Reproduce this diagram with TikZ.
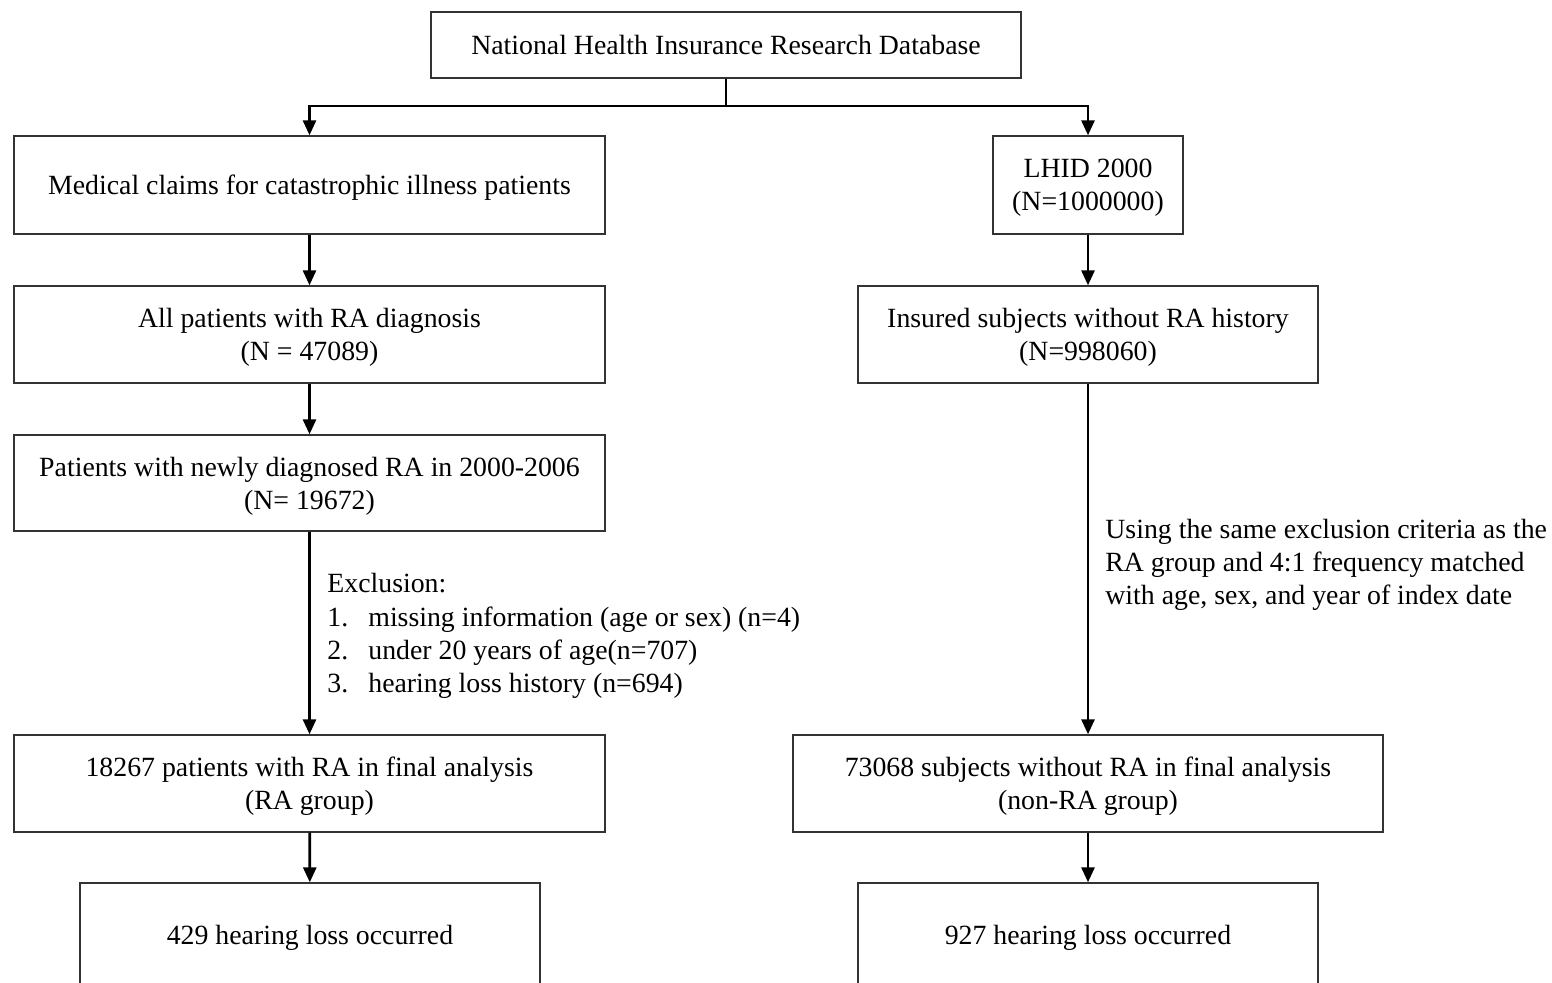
\documentclass[tikz,border=0pt]{standalone}
\usepackage{fontspec}
\setmainfont{Liberation Serif}
\usepackage{tikz}
\usetikzlibrary{arrows.meta}

\tikzset{
  box/.style={draw=black!80, line width=0.7pt, align=center, inner sep=0pt, text depth=0pt},
  arr/.style={line width=1.4pt, -{Triangle[length=7.5pt,width=6.5pt]}},
}

\begin{document}
\begin{tikzpicture}[x=0.5pt, y=-0.5pt, font=\fontsize{13.9}{16.6}\selectfont]

\clip (0,0) rectangle (1552,982);

% source
\node[box, minimum width=295pt, minimum height=33pt] (db) at (726,45) {National Health Insurance Research Database};

% left branch
\node[box, minimum width=295.5pt, minimum height=49pt] (claims) at (309.5,185) {Medical claims for catastrophic illness patients};
\node[box, minimum width=295.5pt, minimum height=48.5pt] (ra) at (309.5,334.5) {All patients with RA diagnosis\\(N = 47089)};
\node[box, minimum width=295.5pt, minimum height=48pt] (newra) at (309.5,483) {Patients with newly diagnosed RA in 2000-2006\\(N= 19672)};
\node[box, minimum width=295.5pt, minimum height=48.5pt] (rafinal) at (309.5,783.5) {18267 patients with RA in final analysis\\(RA group)};
\node[box, minimum width=230pt, minimum height=52pt] (rahl) at (310,935) {429 hearing loss occurred};

% right branch
\node[box, minimum width=95pt, minimum height=49pt] (lhid) at (1088,185) {LHID 2000\\(N=1000000)};
\node[box, minimum width=230pt, minimum height=48.5pt] (insured) at (1088,334.5) {Insured subjects without RA history\\(N=998060)};
\node[box, minimum width=295pt, minimum height=48.5pt] (nonrafinal) at (1088,783.5) {73068 subjects without RA in final analysis\\(non-RA group)};
\node[box, minimum width=230pt, minimum height=52pt] (nonrahl) at (1088,935) {927 hearing loss occurred};

% notes
\node[anchor=west, align=left, inner sep=0pt] (excl) at (327,636) {Exclusion:\\
\makebox[20.5pt][l]{1.}missing information (age or sex) (n=4)\\
\makebox[20.5pt][l]{2.}under 20 years of age(n=707)\\
\makebox[20.5pt][l]{3.}hearing loss history (n=694)};
\node[anchor=west, align=left, inner sep=0pt] (match) at (1105,565) {Using the same exclusion criteria as the\\
RA group and 4:1 frequency matched\\
with age, sex, and year of index date};

% connectors
\coordinate (split) at (726,106);
\draw[line width=1.4pt] (db.south) -- (split);
\draw[arr] (split) -| (claims.north);
\draw[arr] (split) -| (lhid.north);

\draw[arr] (claims) -- (ra);
\draw[arr] (ra) -- (newra);
\draw[arr] (newra) -- (rafinal);
\draw[arr] (rafinal) -- (rahl);

\draw[arr] (lhid) -- (insured);
\draw[arr] (insured) -- (nonrafinal);
\draw[arr] (nonrafinal) -- (nonrahl);

\end{tikzpicture}
\end{document}
